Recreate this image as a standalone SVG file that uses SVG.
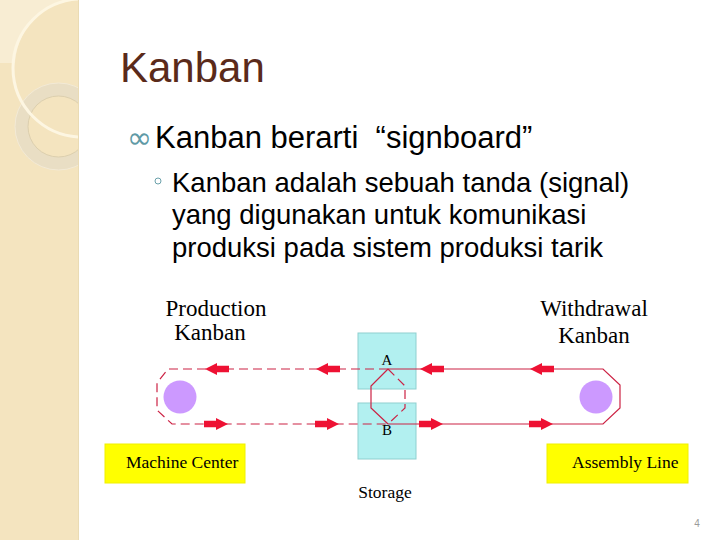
<svg xmlns="http://www.w3.org/2000/svg" width="720" height="540" viewBox="0 0 720 540">
<defs>
<style>
.sans{font-family:"Liberation Sans",Arial,sans-serif}
.serif{font-family:"Liberation Serif","Times New Roman",serif}
.lbl{font-size:23px;fill:#000}
.box{font-size:17.5px;fill:#000}
.yel{fill:#ffff00;stroke:#f0f000;stroke-width:1}
.stor{fill:#b2f0f0;stroke:#8fd0d0;stroke-width:1}
.dash{fill:none;stroke:#cc2244;stroke-width:1.2;stroke-dasharray:9 5}
.solid{fill:none;stroke:#cc2244;stroke-width:1.2}
.arr{fill:#ee1133}
.token{fill:#cc99ff}
</style>
<clipPath id="band"><rect x="0" y="0" width="78" height="540"/></clipPath>
<path id="arrow" d="M-24,-3.2 H-12 V-6 L0,0 L-12,6 V3.2 H-24 Z"/>
</defs>
<rect width="720" height="540" fill="#ffffff"/>
<g id="band-deco" clip-path="url(#band)">
<rect x="0" y="0" width="78" height="540" fill="#f4e4bf"/>
<path d="M0,0 H67 A69,69 0 0 0 15,63 H0 Z" fill="#f8edd3"/>
<circle cx="58.5" cy="126.5" r="37" fill="none" stroke="#e9dec4" stroke-width="13"/>
<circle cx="58.5" cy="126.5" r="43.5" fill="none" stroke="#f3ead6" stroke-width="1"/>
<circle cx="58.5" cy="126.5" r="30.5" fill="none" stroke="#dccfae" stroke-width="1"/>
<circle cx="82" cy="68" r="69" fill="none" stroke="#fdf6e2" stroke-width="3"/>
</g>
<line x1="78.5" y1="0" x2="78.5" y2="540" stroke="#eadbb4" stroke-width="1"/>
<text class="sans" x="120" y="82" font-size="42" fill="#5a2a1a">Kanban</text>
<g id="bullets">
<text x="127" y="148" font-family="DejaVu Sans,sans-serif" font-size="30" fill="#5f9aa6">∞</text>
<text class="sans" x="155" y="148" font-size="31" fill="#000" xml:space="preserve">Kanban berarti  “signboard”</text>
<circle cx="158" cy="181" r="3" fill="none" stroke="#6aa0aa" stroke-width="1"/>
<text class="sans" font-size="27.5" fill="#000"><tspan x="172" y="192">Kanban adalah sebuah tanda (signal)</tspan><tspan x="172" y="224">yang digunakan untuk komunikasi</tspan><tspan x="172" y="257">produksi pada sistem produksi tarik</tspan></text>
</g>
<g id="production-kanban-label"><text class="serif lbl" text-anchor="middle"><tspan x="216" y="316">Production</tspan><tspan x="210" y="340">Kanban</tspan></text></g>
<g id="withdrawal-kanban-label"><text class="serif lbl" text-anchor="middle"><tspan x="594" y="316">Withdrawal</tspan><tspan x="594" y="343">Kanban</tspan></text></g>
<g id="storage-A"><rect class="stor" x="358" y="333" width="58" height="56"/><text class="serif" x="387" y="365" font-size="15" text-anchor="middle">A</text></g>
<g id="storage-B"><rect class="stor" x="358" y="403" width="58" height="56"/><text class="serif" x="387" y="435" font-size="15" text-anchor="middle">B</text></g>
<g id="storage-label"><text class="serif box" x="385" y="498" text-anchor="middle">Storage</text></g>
<g id="machine-center"><rect class="yel" x="105" y="444" width="140" height="39"/><text class="serif box" x="126" y="468">Machine Center</text></g>
<g id="assembly-line"><rect class="yel" x="547" y="444" width="141" height="39"/><text class="serif box" x="572" y="468">Assembly Line</text></g>
<g id="production-token"><circle class="token" cx="180" cy="397" r="16.5"/></g>
<g id="withdrawal-token"><circle class="token" cx="596" cy="397" r="16.5"/></g>
<g id="connectors">
<path class="dash" d="M388,369 H168 L157,383 V410 L172,424 H388"/>
<path class="solid" d="M388,369 H603 L620,385 V408 L603,424 H388"/>
<path class="solid" d="M388,369 L371,386 V408 L388,424"/>
<path class="dash" d="M388,369 L405,386 V408 L388,424"/>
<use href="#arrow" class="arr" transform="translate(205,369) scale(-1,1)"/>
<use href="#arrow" class="arr" transform="translate(316,369) scale(-1,1)"/>
<use href="#arrow" class="arr" transform="translate(420,369) scale(-1,1)"/>
<use href="#arrow" class="arr" transform="translate(530,369) scale(-1,1)"/>
<use href="#arrow" class="arr" transform="translate(228,424)"/>
<use href="#arrow" class="arr" transform="translate(339,424)"/>
<use href="#arrow" class="arr" transform="translate(443,424)"/>
<use href="#arrow" class="arr" transform="translate(553,424)"/>
</g>
<text class="sans" x="697" y="527" font-size="10" fill="#9a9a9a" text-anchor="middle">4</text>
</svg>
